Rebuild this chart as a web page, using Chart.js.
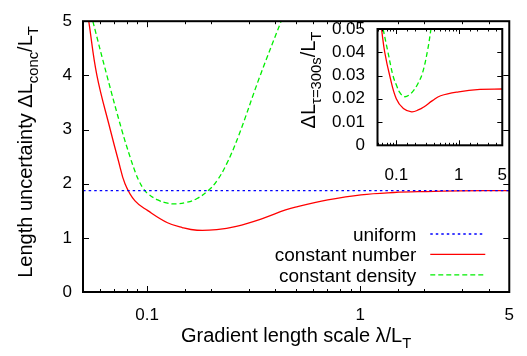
<!DOCTYPE html>
<html>
<head>
<meta charset="utf-8">
<script src="https://cdn.jsdelivr.net/npm/chart.js@4.4.0/dist/chart.umd.min.js"></script>
<style>
    body { margin: 0; background: #fff; }
    #wrap { position: relative; width: 527px; height: 356px; }
    #wrap canvas { position: absolute; top: 0; }
</style>
</head>
<body>
<div id="wrap">
    <canvas id="mainChart" width="527" height="356" style="left:0"></canvas>
    <canvas id="insetChart" width="232" height="190" style="left:295px"></canvas>
</div>
<script>
// values
const uniformX = [0.05, 5];
const uniformY = [1.873, 1.873];

const numberX = [0.0532, 0.0581, 0.0671, 0.0732, 0.0787, 0.0877, 0.1007, 0.1246, 0.1461, 0.1714,
                 0.212, 0.262, 0.342, 0.446, 0.496, 0.704, 1.007, 1.435, 2.04, 2.92, 5];
const numberY = [5.0, 4.0, 3.0, 2.433, 2.0, 1.682, 1.503, 1.279, 1.19, 1.14,
                 1.152, 1.213, 1.347, 1.515, 1.569, 1.70, 1.795, 1.837, 1.855, 1.866, 1.873];

const densityX = [0.0556, 0.0647, 0.0759, 0.0832, 0.0882, 0.0916, 0.0955, 0.1007, 0.1121, 0.1246, 0.1361, 0.1541,
                  0.1714, 0.1936, 0.212, 0.2357, 0.2678, 0.3365, 0.4251];
const densityY = [5.0, 4.0, 3.0, 2.49, 2.20, 2.048, 1.923, 1.816, 1.70, 1.641, 1.628, 1.658,
                  1.726, 1.873, 2.048, 2.361, 2.871, 3.962, 5.0];

// inset: delta L at tau = 300 s
const insetNumberX = [0.058, 0.0653, 0.0784, 0.1, 0.13, 0.176, 0.23, 0.28, 0.38, 0.514, 1.0, 2.2, 5];
const insetNumberY = [0.05, 0.04, 0.03, 0.02, 0.0158, 0.0144, 0.0153, 0.0166, 0.0192, 0.0213, 0.0230, 0.0240, 0.0242];
const insetDensityX = [0.0615, 0.0736, 0.0884, 0.1, 0.115, 0.135, 0.16, 0.19, 0.225, 0.263, 0.316, 0.36];
const insetDensityY = [0.05, 0.04, 0.03, 0.026, 0.0225, 0.0209, 0.0216, 0.0236, 0.0268, 0.031, 0.0405, 0.05];

const seriesLabels = ['uniform', 'constant number', 'constant density'];
const xTickLabels = [0.1, 1, 5];

const xTitle = [{text: 'Gradient length scale λ/L'}, {text: 'T', sub: true}];
const yTitle = [{text: 'Length uncertainty ΔL'}, {text: 'conc', sub: true}, {text: '/L'}, {text: 'T', sub: true}];
const insetYTitle = [{text: 'ΔL'}, {text: 'τ=300s', sub: true}, {text: '/L'}, {text: 'T', sub: true}];

const FONT = '"Liberation Sans", Arial, Helvetica, sans-serif';
Chart.defaults.font.family = FONT;
Chart.defaults.font.size = 17;
Chart.defaults.color = '#000';

function points(xs, ys) {
    return xs.map((x, i) => ({x: x, y: ys[i]}));
}

function drawRich(ctx, parts, cx, baseY, size) {
    const subSize = size * 0.74;
    let total = 0;
    parts.forEach(p => {
        ctx.font = (p.sub ? subSize : size) + 'px ' + FONT;
        total += ctx.measureText(p.text).width;
    });
    let xx = cx - total / 2;
    ctx.textAlign = 'left';
    ctx.textBaseline = 'alphabetic';
    parts.forEach(p => {
        ctx.font = (p.sub ? subSize : size) + 'px ' + FONT;
        ctx.fillText(p.text, xx, baseY + (p.sub ? size * 0.28 : 0));
        xx += ctx.measureText(p.text).width;
    });
}

// gnuplot style box with inward ticks, titles and legend
const gnuFrame = {
    id: 'gnuFrame',
    afterDraw(chart, args, o) {
        const ctx = chart.ctx;
        const a = chart.chartArea;
        const x = chart.scales.x, y = chart.scales.y;
        ctx.save();
        ctx.strokeStyle = '#000';
        ctx.fillStyle = '#000';
        ctx.lineWidth = 1;
        ctx.beginPath();
        x.ticks.forEach(t => {
            const px = Math.round(x.getPixelForValue(t.value)) + 0.5;
            const len = t.label ? o.major : o.minor;
            ctx.moveTo(px, a.bottom); ctx.lineTo(px, a.bottom - len);
            ctx.moveTo(px, a.top); ctx.lineTo(px, a.top + len);
        });
        y.ticks.forEach(t => {
            const py = Math.round(y.getPixelForValue(t.value)) + 0.5;
            ctx.moveTo(a.left, py); ctx.lineTo(a.left + o.major, py);
            ctx.moveTo(a.right, py); ctx.lineTo(a.right - o.major, py);
        });
        ctx.stroke();
        ctx.lineWidth = o.border;
        ctx.strokeRect(a.left, a.top, a.right - a.left, a.bottom - a.top);

        if (o.xTitle) {
            drawRich(ctx, o.xTitle, (a.left + a.right) / 2, o.xTitleY, o.titleSize);
        }
        if (o.yTitle) {
            ctx.save();
            ctx.translate(o.yTitleX, o.yTitleY);
            ctx.rotate(-Math.PI / 2);
            drawRich(ctx, o.yTitle, 0, 0, o.titleSize);
            ctx.restore();
        }
        if (o.legend) {
            chart.data.datasets.forEach((ds, i) => {
                const ry = a.bottom - 58 + i * 20.4;
                ctx.font = '19px ' + FONT;
                ctx.textAlign = 'right';
                ctx.textBaseline = 'alphabetic';
                ctx.fillText(ds.label, a.right - 93, ry + 7);
                ctx.save();
                ctx.strokeStyle = ds.borderColor;
                ctx.lineWidth = ds.borderWidth;
                ctx.setLineDash(ds.borderDash || []);
                ctx.beginPath();
                ctx.moveTo(a.right - 79, ry);
                ctx.lineTo(a.right - 24, ry);
                ctx.stroke();
                ctx.restore();
            });
        }
        ctx.restore();
    }
};

function lineSet(label, data, color, dash) {
    return {
        label: label,
        data: data,
        borderColor: color,
        borderWidth: 1.3,
        borderDash: dash,
        pointRadius: 0,
        fill: false,
        tension: 0.4
    };
}

function logX(padding, height) {
    return {
        type: 'logarithmic',
        min: 0.05,
        max: 5,
        grid: {display: false, drawTicks: false},
        border: {display: false},
        afterFit: s => { s.height = height; },
        ticks: {
            autoSkip: false,
            maxRotation: 0,
            padding: padding,
            callback: v => {
                const hit = xTickLabels.find(t => Math.abs(t - v) / t < 1e-6);
                return hit === undefined ? '' : String(hit);
            }
        }
    };
}

new Chart(document.getElementById('mainChart'), {
    type: 'line',
    data: {
        datasets: [
            lineSet(seriesLabels[0], points(uniformX, uniformY), '#0000ff', [2.5, 3]),
            lineSet(seriesLabels[1], points(numberX, numberY), '#ff0000', []),
            lineSet(seriesLabels[2], points(densityX, densityY), '#00ee00', [5, 3])
        ]
    },
    options: {
        responsive: false,
        animation: false,
        devicePixelRatio: 1,
        layout: {padding: {top: 13, right: 12, left: 0, bottom: 0}},
        plugins: {
            legend: {display: false},
            tooltip: {enabled: false},
            gnuFrame: {
                major: 6, minor: 3, border: 2, titleSize: 20,
                xTitle: xTitle, xTitleY: 342,
                yTitle: yTitle, yTitleX: 32, yTitleY: 152,
                legend: true
            }
        },
        scales: {
            x: logX(13, 64),
            y: {
                min: 0,
                max: 5,
                grid: {display: false, drawTicks: false},
                border: {display: false},
                afterFit: s => { s.width = 83; },
                ticks: {stepSize: 1, padding: 11, autoSkip: false}
            }
        }
    },
    plugins: [gnuFrame]
});

new Chart(document.getElementById('insetChart'), {
    type: 'line',
    data: {
        datasets: [
            lineSet(seriesLabels[1], points(insetNumberX, insetNumberY), '#ff0000', []),
            lineSet(seriesLabels[2], points(insetDensityX, insetDensityY), '#00ee00', [5, 3])
        ]
    },
    options: {
        responsive: false,
        animation: false,
        devicePixelRatio: 1,
        layout: {padding: {top: 29, right: 22.5, left: 0, bottom: 0}},
        plugins: {
            legend: {display: false},
            tooltip: {enabled: false},
            gnuFrame: {
                major: 5, minor: 2.5, border: 2, titleSize: 20,
                yTitle: insetYTitle, yTitleX: 20, yTitleY: 80,
                legend: false
            }
        },
        scales: {
            x: logX(20, 44.7),
            y: {
                min: 0,
                max: 0.05,
                grid: {display: false, drawTicks: false},
                border: {display: false},
                afterFit: s => { s.width = 82.5; },
                ticks: {stepSize: 0.01, padding: 12.5, autoSkip: false}
            }
        }
    },
    plugins: [gnuFrame]
});
</script>
</body>
</html>
